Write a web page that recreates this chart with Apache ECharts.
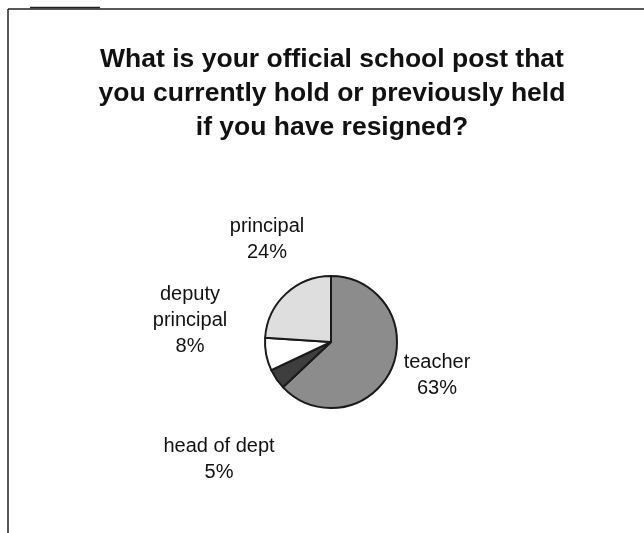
<!DOCTYPE html>
<html>
<head>
<meta charset="utf-8">
<script src="https://cdn.jsdelivr.net/npm/echarts@6/dist/echarts.min.js"></script>
<style>
  html, body { margin: 0; padding: 0; background: #fff; }
  #chart { width: 644px; height: 533px; }
</style>
</head>
<body>
<div id="chart"></div>
<script>
// pie data
var categories = ['teacher', 'head of dept', 'deputy principal', 'principal'];
var labelNames = ['teacher', 'head of dept', 'deputy\nprincipal', 'principal'];
var percents = [63, 5, 8, 24];
var sliceColors = ['#8c8c8c', '#3e3e3e', '#ffffff', '#dedede'];

// label centres (px), per slice
var labelPos = [[437, 375], [219, 459], [190, 320], [267, 239]];

var myChart = echarts.init(document.getElementById('chart'));

var pieData = [];
for (var i = 0; i < categories.length; i++) {
    pieData.push({
        name: categories[i],
        value: percents[i],
        itemStyle: { color: sliceColors[i] },
        label: {
            formatter: labelNames[i] + '\n' + percents[i] + '%'
        }
    });
}

var option = {
    backgroundColor: '#ffffff',
    animation: false,
    title: {
        text: 'What is your official school post that\nyou currently hold or previously held\nif you have resigned?',
        left: 327,          // with textAlign center this is the centre x
        top: 38,
        textAlign: 'center',
        textStyle: {
            fontFamily: 'Liberation Sans, Arial, sans-serif',
            fontSize: 26.5,
            fontWeight: 'bold',
            color: '#111',
            lineHeight: 34
        }
    },
    graphic: [
        { type: 'line', shape: { x1: 8, y1: 9, x2: 644, y2: 9 }, style: { stroke: '#222', lineWidth: 1.5 } },
        { type: 'line', shape: { x1: 30, y1: 7.5, x2: 100, y2: 7.5 }, style: { stroke: '#222', lineWidth: 1.5 } },
        { type: 'line', shape: { x1: 8, y1: 9, x2: 8, y2: 533 }, style: { stroke: '#222', lineWidth: 1.5 } }
    ],
    series: [{
        type: 'pie',
        center: [331, 342],
        radius: 66,
        startAngle: 90,
        clockwise: true,
        data: pieData,
        itemStyle: {
            borderColor: '#1a1a1a',
            borderWidth: 2
        },
        label: {
            show: true,
            position: 'outside',
            fontFamily: 'Liberation Sans, Arial, sans-serif',
            fontSize: 20,
            color: '#111',
            lineHeight: 26,
            align: 'center'
        },
        labelLine: { show: false },
        labelLayout: function (params) {
            var p = labelPos[params.dataIndex];
            return {
                x: p[0],
                y: p[1],
                align: 'center',
                verticalAlign: 'middle'
            };
        },
        emphasis: { disabled: true }
    }]
};
myChart.setOption(option);
</script>
</body>
</html>
